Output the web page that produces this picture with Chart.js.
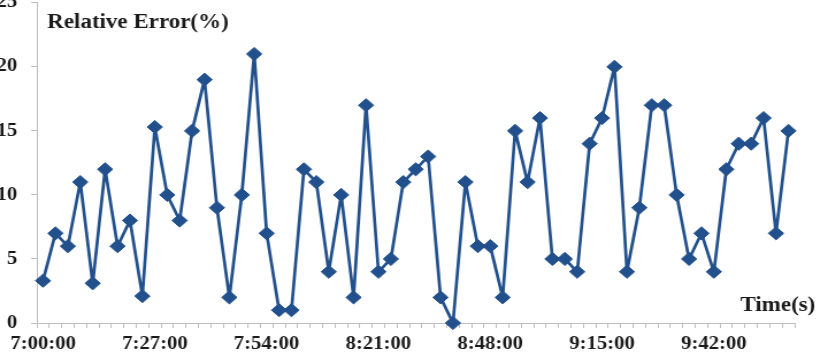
<!DOCTYPE html>
<html>
<head>
<meta charset="utf-8">
<script src="https://cdn.jsdelivr.net/npm/chart.js@4"></script>
<style>
  html, body { margin: 0; padding: 0; background: #fff; overflow: hidden; width: 820px; height: 359px; }
  #wrap {
    position: absolute; left: -23px; top: -20px;
    width: 733px; height: 379px;
    transform: scaleX(1.15); transform-origin: 0 0;
  }
</style>
</head>
<body>
<div id="wrap"><canvas id="myChart"></canvas></div>
<script>
const categories = [
  '7:00:00','7:03:00','7:06:00','7:09:00','7:12:00','7:15:00','7:18:00','7:21:00','7:24:00','7:27:00',
  '7:30:00','7:33:00','7:36:00','7:39:00','7:42:00','7:45:00','7:48:00','7:51:00','7:54:00','7:57:00',
  '8:00:00','8:03:00','8:06:00','8:09:00','8:12:00','8:15:00','8:18:00','8:21:00','8:24:00','8:27:00',
  '8:30:00','8:33:00','8:36:00','8:39:00','8:42:00','8:45:00','8:48:00','8:51:00','8:54:00','8:57:00',
  '9:00:00','9:03:00','9:06:00','9:09:00','9:12:00','9:15:00','9:18:00','9:21:00','9:24:00','9:27:00',
  '9:30:00','9:33:00','9:36:00','9:39:00','9:42:00','9:45:00','9:48:00','9:51:00','9:54:00','9:57:00',
  '10:00:00'
];
const errorValues = [
  3.3, 7, 6, 11, 3.1, 12, 6, 8, 2.1, 15.3,
  10, 8, 15, 19, 9, 2, 10, 21, 7, 1,
  1, 12, 11, 4, 10, 2, 17, 4, 5, 11,
  12, 13, 2, 0, 11, 6, 6, 2, 15, 11,
  16, 5, 5, 4, 14, 16, 20, 4, 9, 17,
  17, 10, 5, 7, 4, 12, 14, 14, 16, 7,
  15
];
const tickLabels = ['7:00:00', '7:27:00', '7:54:00', '8:21:00', '8:48:00', '9:15:00', '9:42:00'];

const blue = '#21508C';
const axisGray = '#BFBFBF';
const textColor = '#1a1a1a';
const serif = '"Liberation Serif", "Times New Roman", serif';

// axis titles drawn inside the chart like the original
const axisTexts = {
    id: 'axisTexts',
    afterDraw(chart) {
        const ctx = chart.ctx;
        ctx.save();
        ctx.fillStyle = textColor;
        ctx.font = 'bold 20px ' + serif;
        ctx.textBaseline = 'alphabetic';
        ctx.textAlign = 'left';
        ctx.fillText('Relative Error(%)', 61, 48);
        ctx.textAlign = 'right';
        ctx.fillText('Time(s)', 729, 331);
        ctx.restore();
    }
};

const ctx = document.getElementById('myChart');
new Chart(ctx.getContext('2d'), {
    type: 'line',
    data: {
        labels: categories,
        datasets: [{
            label: 'Relative Error(%)',
            data: errorValues,
            borderColor: blue,
            backgroundColor: blue,
            borderWidth: 2.7,
            borderJoinStyle: 'round',
            borderCapStyle: 'round',
            pointStyle: 'rectRot',
            pointRadius: 6.6,
            pointBackgroundColor: blue,
            pointBorderColor: blue,
            pointBorderWidth: 1,
            tension: 0,
            clip: false
        }]
    },
    options: {
        responsive: true,
        maintainAspectRatio: false,
        animation: false,
        layout: { padding: { left: 0, top: 16, right: 22, bottom: 0 } },
        plugins: {
            legend: { display: false },
            tooltip: { enabled: false }
        },
        scales: {
            x: {
                type: 'category',
                offset: true,
                afterFit(scale) { scale.height = 36; },
                grid: {
                    offset: true,
                    drawOnChartArea: false,
                    drawTicks: true,
                    tickLength: 5,
                    color: axisGray
                },
                border: { display: true, color: axisGray, width: 1 },
                ticks: {
                    autoSkip: false,
                    maxRotation: 0,
                    padding: 6,
                    color: textColor,
                    font: { family: serif, size: 18, weight: 'bold' },
                    callback: function(value, index) {
                        const c = categories[index];
                        return tickLabels.includes(c) ? c : '';
                    }
                }
            },
            y: {
                min: 0,
                max: 25,
                afterFit(scale) { scale.width = 52; },
                grid: {
                    drawOnChartArea: false,
                    drawTicks: true,
                    tickLength: 5,
                    color: axisGray
                },
                border: { display: true, color: axisGray, width: 1 },
                ticks: {
                    stepSize: 5,
                    padding: 12,
                    color: textColor,
                    font: { family: serif, size: 18, weight: 'bold' }
                }
            }
        }
    },
    plugins: [axisTexts]
});
</script>
</body>
</html>
